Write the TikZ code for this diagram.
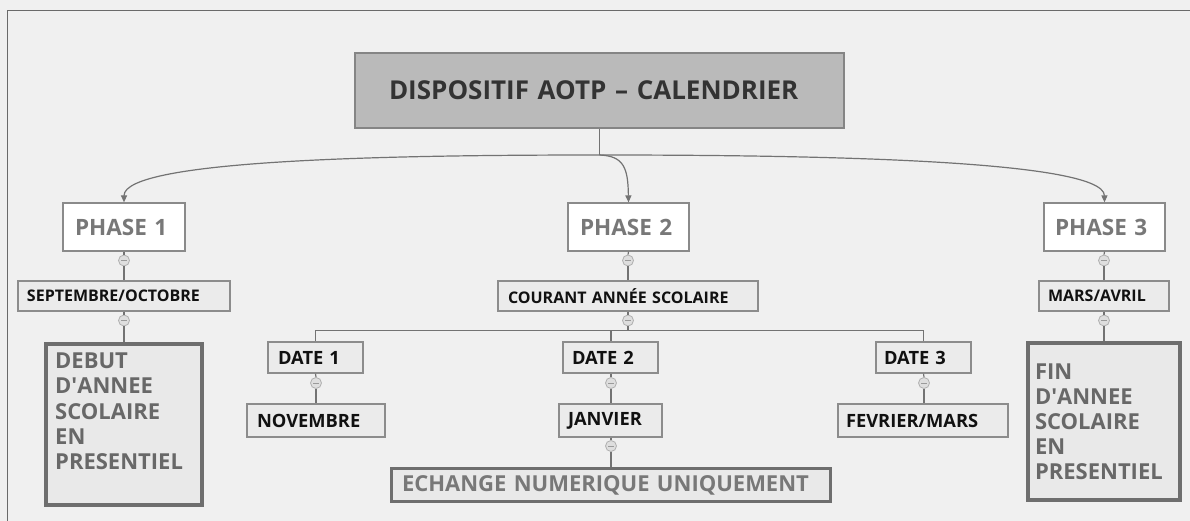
\documentclass[tikz,border=0pt]{standalone}
\usepackage{fontspec}
\setmainfont{Open Sans}
\usetikzlibrary{arrows.meta}
\definecolor{bg}{HTML}{F0F0F0}
\definecolor{framec}{HTML}{6A6A6A}
\definecolor{connc}{HTML}{737373}
\definecolor{rootfill}{HTML}{BABABA}
\definecolor{rootline}{HTML}{858585}
\definecolor{roottext}{HTML}{333333}
\definecolor{phaseline}{HTML}{8A8A8A}
\definecolor{phasetext}{HTML}{787878}
\definecolor{smallfill}{HTML}{EBEBEB}
\definecolor{smallline}{HTML}{8C8C8C}
\definecolor{smalltext}{HTML}{111111}
\definecolor{bigfill}{HTML}{E9E9E9}
\definecolor{bigline}{HTML}{6E6E6E}
\definecolor{bigtext}{HTML}{686868}
\definecolor{togfill}{HTML}{DEDEDE}
\definecolor{togline}{HTML}{B0B0B0}
\definecolor{togminus}{HTML}{9A9A9A}
\tikzset{
  conn/.style={draw=connc, line width=1.2pt},
  tipped/.style={-{Triangle[length=7pt,width=6pt]}},
  rootbox/.style={draw=rootline, fill=rootfill, line width=1.2pt, minimum height=75pt,
    inner ysep=0pt, align=left, text=roottext, font=\fontsize{26}{30}\selectfont\bfseries},
  phasebox/.style={draw=phaseline, fill=white, line width=1.2pt, minimum height=48pt,
    inner ysep=0pt, align=left, text=phasetext, font=\fontsize{22.5}{26}\selectfont\bfseries},
  monthbox/.style={draw=smallline, fill=smallfill, line width=1.2pt, minimum height=30pt,
    inner ysep=0pt, align=left, text=smalltext, font=\fontsize{16}{19}\selectfont\bfseries},
  datebox/.style={draw=smallline, fill=smallfill, line width=1.2pt,
    inner ysep=0pt, align=left, text=smalltext, font=\fontsize{18.3}{22}\selectfont\bfseries},
  bigbox/.style={draw=bigline, fill=bigfill, line width=4pt, inner ysep=0pt,
    align=left, text=bigtext, font=\fontsize{22}{25}\selectfont\bfseries},
  bigtxt/.style={inner sep=0pt, align=left, text=bigtext, font=\fontsize{22}{25.3}\selectfont\bfseries},
  echbox/.style={draw=bigline, fill=bigfill, line width=3pt, inner ysep=0pt,
    align=left, text=phasetext, font=\fontsize{22}{25}\selectfont\bfseries},
  toggle/.style={circle, draw=togline, fill=togfill, line width=0.8pt, minimum size=11pt,
    inner sep=0pt, path picture={\draw[togminus, line width=1pt]
      ([xshift=-2.6pt]path picture bounding box.center) -- ([xshift=2.6pt]path picture bounding box.center);}}
}
\begin{document}
\begin{tikzpicture}[x=1pt,y=-1pt]
\useasboundingbox (0,0) rectangle (1190,521);
\fill[bg] (0,0) rectangle (1190,521);
\draw[framec, line width=1.6pt] (7.5,521) -- (7.5,10.5) -- (1190,10.5);

% root
\node[rootbox, inner xsep=34pt, text width=421pt] (root) at (599.5,90.5) {\mbox{DISPOSITIF AOTP – CALENDRIER}};

% phases
\node[phasebox, inner xsep=12pt, text width=98pt] (p1) at (124,227) {\mbox{PHASE 1}};
\node[phasebox, inner xsep=12pt, text width=97pt] (p2) at (628.5,227) {\mbox{PHASE 2}};
\node[phasebox, inner xsep=11pt, text width=99pt] (p3) at (1104.5,227) {\mbox{PHASE 3}};

% toggles under phases
\node[toggle] (t1) at (124,260.5) {};
\node[toggle] (t2) at (628,260.5) {};
\node[toggle] (t3) at (1104,260.5) {};

% months
\node[monthbox, inner xsep=9pt, text width=194pt] (sep) at (124,296) {\mbox{SEPTEMBRE/OCTOBRE}};
\node[monthbox, inner xsep=10pt, text width=240pt] (court) at (628,296) {\mbox{COURANT ANNÉE SCOLAIRE}};
\node[monthbox, inner xsep=9pt, text width=112pt] (mars) at (1104,296) {\mbox{MARS/AVRIL}};

\node[toggle] (ts) at (124,320.5) {};
\node[toggle] (tc) at (628,320.5) {};
\node[toggle] (tm) at (1104,320.5) {};

% big boxes
\node[bigbox, minimum width=156pt, minimum height=161pt] (debut) at (124,424.5) {};
\node[bigtxt, anchor=north west] (debuttxt) at (55,352.5) {DEBUT\\D\textquotesingle ANNEE\\SCOLAIRE\\EN\\PRESENTIEL};
\node[bigbox, inner xsep=7pt, text width=138pt, minimum height=157pt] (fin) at (1104,421.5) {FIN\\D\textquotesingle ANNEE\\SCOLAIRE\\EN\\PRESENTIEL};

% dates
\coordinate (bus) at (628,330.5);
\node[datebox, inner xsep=10pt, text width=75pt, minimum height=31pt] (d1) at (315.5,357.5) {\mbox{DATE 1}};
\node[datebox, inner xsep=9pt, text width=77pt, minimum height=31pt] (d2) at (610.5,357.5) {\mbox{DATE 2}};
\node[datebox, inner xsep=8pt, text width=79pt, minimum height=31pt] (d3) at (923.5,357.5) {\mbox{DATE 3}};

\node[toggle] (td1) at (316,383) {};
\node[toggle] (td2) at (611,383) {};
\node[toggle] (td3) at (924,383) {};

\node[datebox, inner xsep=10pt, text width=118pt, minimum height=33pt] (nov) at (316,420.5) {\mbox{NOVEMBRE}};
\node[datebox, inner xsep=9pt, text width=85pt, minimum height=33pt] (jan) at (610.5,420.5) {\mbox{JANVIER}};
\node[datebox, inner xsep=8pt, text width=154pt, minimum height=33pt] (fev) at (923,420.5) {\mbox{FEVRIER/MARS}};

\node[toggle] (tj) at (611,446) {};

\node[echbox, inner xsep=10.5pt, text width=418pt, minimum height=33pt] (ech) at (611,485) {\mbox{ECHANGE NUMERIQUE UNIQUEMENT}};

% connectors
\coordinate (hub) at (599.5,155);
\draw[conn] (root.south) -- (hub);
\draw[conn, tipped] (hub) .. controls (400,155) and (124,159) .. (p1.north);
\draw[conn, tipped] (hub) .. controls (624,156) and (628,168) .. (p2.north);
\draw[conn, tipped] (hub) .. controls (800,155) and (1104,159) .. (p3.north);

\draw[conn] (p1.south) -- (t1.north);
\draw[conn] (t1.south) -- (sep.north);
\draw[conn] (sep.south) -- (ts.north);
\draw[conn] (ts.south) -- (debut.north);

\draw[conn] (p2.south) -- (t2.north);
\draw[conn] (t2.south) -- (court.north);
\draw[conn] (court.south) -- (tc.north);
\draw[conn] (tc.south) -- (bus);
\draw[conn] (bus) -| (d1.north);
\draw[conn] (bus) -| (d3.north);
\draw[conn] (bus) -| (td2 |- d2.north);

\draw[conn] (d1.south) -- (td1.north);
\draw[conn] (td1.south) -- (nov.north);
\draw[conn] (td2 |- d2.south) -- (td2.north);
\draw[conn] (td2.south) -- (td2 |- jan.north);
\draw[conn] (d3.south) -- (td3.north);
\draw[conn] (td3.south) -- (td3 |- fev.north);
\draw[conn] (tj |- jan.south) -- (tj.north);
\draw[conn] (tj.south) -- (ech.north -| tj);

\draw[conn] (p3.south) -- (t3.north);
\draw[conn] (t3.south) -- (mars.north);
\draw[conn] (mars.south) -- (tm.north);
\draw[conn] (tm.south) -- (fin.north);
\end{tikzpicture}
\end{document}
